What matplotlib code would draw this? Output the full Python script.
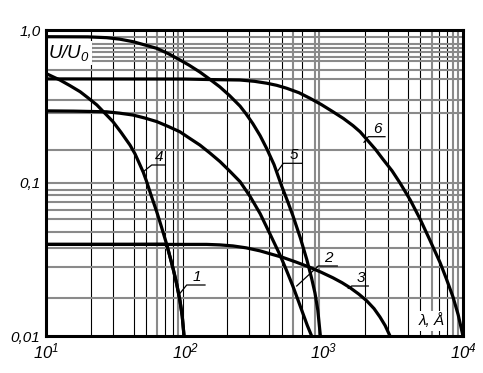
import numpy as np
import matplotlib
matplotlib.use('Agg')
import matplotlib.pyplot as plt
from matplotlib import font_manager

names = {f.name for f in font_manager.fontManager.ttflist}
FONT = 'Liberation Sans Narrow' if 'Liberation Sans Narrow' in names else 'Liberation Sans'
plt.rcParams.update({'font.family': FONT, 'font.style': 'italic',
                     'mathtext.fontset': 'custom',
                     'mathtext.it': f'{FONT}:italic',
                     'mathtext.rm': f'{FONT}:italic'})

# ── кривые U/U0 (λ) ──
x1 = [10, 40, 73.8, 77.6, 82.4, 87.1, 92.0, 95.5, 98.4]
y1 = [0.0397, 0.0397, 0.0398, 0.0335, 0.0272, 0.0219, 0.0170, 0.0135, 0.01]

x2 = [10, 15.8, 27.3, 33.9, 42.3, 51.3, 62.6, 75.9, 92, 107, 128, 151, 178.6, 209, 249,
      295, 347, 407, 482, 537, 598, 653, 706, 759, 815]
y2 = [0.296, 0.295, 0.292, 0.286, 0.278, 0.266, 0.252, 0.234, 0.216, 0.197, 0.177, 0.157,
      0.138, 0.120, 0.102, 0.0813, 0.0631, 0.0468, 0.0339, 0.0269, 0.0211, 0.0170, 0.0140,
      0.0117, 0.01]

x3 = [10, 100, 143, 178, 221, 275, 347, 417, 507, 631, 792, 955, 1161, 1349, 1538, 1778,
      2028, 2291, 2529, 2754, 2985]
y3 = [0.0397, 0.0397, 0.0397, 0.0394, 0.0388, 0.0377, 0.0360, 0.0343, 0.0326, 0.0304,
      0.0281, 0.0261, 0.0240, 0.0223, 0.0207, 0.0188, 0.0170, 0.0151, 0.0133, 0.0117, 0.01]

x4 = [10, 11.2, 12.6, 14.8, 17.6, 20.0, 23.2, 26.3, 30.3, 34.7, 40.2, 43.7, 47.5, 50.1, 53.0,
      57.5, 62.7, 67.6, 73.8, 77.6, 82.4, 87.1, 92.0, 95.5, 98.4]
y4 = [0.52, 0.495, 0.471, 0.434, 0.395, 0.361, 0.324, 0.288, 0.252, 0.214, 0.177, 0.155,
      0.131, 0.1175, 0.102, 0.0813, 0.0646, 0.0519, 0.0398, 0.0335, 0.0272, 0.0219, 0.0170,
      0.0135, 0.01]

x5 = [10, 20, 27.3, 34, 42.3, 50, 62.6, 76, 92, 107, 128, 151, 178, 209, 249, 275, 308, 347,
      387, 437, 496, 550, 598, 676, 752, 813, 861, 902, 942]
y5 = [0.904, 0.902, 0.891, 0.871, 0.839, 0.804, 0.759, 0.700, 0.637, 0.589, 0.531, 0.476,
      0.425, 0.373, 0.318, 0.283, 0.244, 0.204, 0.168, 0.132, 0.0955, 0.0750, 0.0610,
      0.0437, 0.0316, 0.0240, 0.0191, 0.0148, 0.01]

x6 = [10, 100, 158, 249, 316, 387, 457, 540, 661, 792, 955, 1161, 1380, 1618, 1820, 2028,
      2344, 2655, 3090, 3524, 4169, 4909, 5754, 6839, 7586, 8472, 9226, 10000]
y6 = [0.479, 0.478, 0.474, 0.471, 0.462, 0.449, 0.435, 0.416, 0.389, 0.358, 0.326, 0.292,
      0.264, 0.237, 0.216, 0.193, 0.166, 0.143, 0.120, 0.100, 0.0776, 0.0582, 0.0427,
      0.0302, 0.0237, 0.0180, 0.0138, 0.01]

# сетка (нарисована от руки, неравномерная)
vgrid_black = [21.0, 30.5, 42.9, 52.4, 72.2, 82.4, 96.7,
               199.5, 290, 405, 498.6, 691,
               1972, 2872, 4042, 4905, 6752, 7709]
vgrid_gray = [62.6, 89.5, 598, 861, 925, 5954, 8512, 9247]
hgrid = [0.896, 0.810, 0.763, 0.718, 0.663, 0.624, 0.550, 0.478, 0.350, 0.287, 0.165, 0.1,
         0.0900, 0.0835, 0.0755, 0.0666, 0.0582, 0.0480, 0.0374, 0.0284, 0.0176]

yticks = [0.01, 0.1, 1.0]
ytick_labels = ['0,01', '0,1', '1,0']
xticks = [10, 100, 1000, 10000]
xtick_labels = [r'$\mathit{10^1}$', r'$\mathit{10^2}$', r'$\mathit{10^3}$', r'$\mathit{10^4}$']

W, H = 483, 373
L, R, T, B = 46, 463, 30, 336
fig = plt.figure(figsize=(W / 100, H / 100), dpi=100)
ax = fig.add_axes([L / W, 1 - B / H, (R - L) / W, (B - T) / H])
ax.set_xscale('log'); ax.set_yscale('log')
ax.set_xlim(10, 1e4); ax.set_ylim(0.01, 1.0)

for v in vgrid_black:
    ax.axvline(v, color='black', lw=0.8, zorder=1)
for v in vgrid_gray:
    ax.axvline(v, color='#8a8a8a', lw=1.5, zorder=1)
for h in hgrid:
    ax.axhline(h, color='#8a8a8a', lw=1.5, zorder=1)

for xs, ys in [(x1, y1), (x2, y2), (x3, y3), (x4, y4), (x5, y5), (x6, y6)]:
    ax.plot(xs, ys, color='black', lw=2.3, solid_capstyle='butt', solid_joinstyle='round',
            zorder=3)

def px(x, y):
    return (x - L) / (R - L), (B - y) / (B - T)

# выноски с номерами кривых: (текст, точка на кривой, угол, конец полки)
leaders = [('1', (180, 293.3), (186.7, 285), (205, 285)),
           ('2', (296.7, 286), (318.3, 266), (337.3, 266)),
           ('3', (348.3, 288.3), (351.7, 286), (368.3, 286)),
           ('4', (143.3, 171.7), (151.7, 165), (165, 165)),
           ('5', (277.3, 171.7), (283.3, 163.3), (301.7, 163.3)),
           ('6', (364, 142.3), (368.3, 136.7), (385, 136.7))]
for lab, p0, p1, p2 in leaders:
    pts = [px(*p) for p in (p0, p1, p2)]
    ax.plot([p[0] for p in pts], [p[1] for p in pts], color='black', lw=0.9,
            transform=ax.transAxes, zorder=4, clip_on=False)
    tx, ty = px((p1[0] + p2[0]) / 2 + 1, p1[1] - 1)
    ax.text(tx, ty, lab, transform=ax.transAxes, ha='center', va='bottom',
            fontsize=11, style='italic', zorder=5)

bb = dict(facecolor='white', edgecolor='none', pad=1.5)
ax.text(*px(69, 53), r'$\mathit{U/U_0}$', transform=ax.transAxes, ha='center', va='center',
        fontsize=13.5, bbox=bb, zorder=5)
ax.text(*px(432, 321), 'λ, Å', transform=ax.transAxes, ha='center', va='center',
        fontsize=11, bbox=bb, zorder=5)

ax.set_yticks(yticks)
ax.set_yticklabels(ytick_labels, fontsize=11, style='italic')
ax.set_xticks(xticks)
ax.set_xticklabels(xtick_labels, fontsize=12)
ax.minorticks_off()
ax.tick_params(length=0, pad=4)
for s in ax.spines.values():
    s.set_linewidth(2.2)
    s.set_zorder(6)

fig.savefig('out.png', dpi=100, facecolor='white')
